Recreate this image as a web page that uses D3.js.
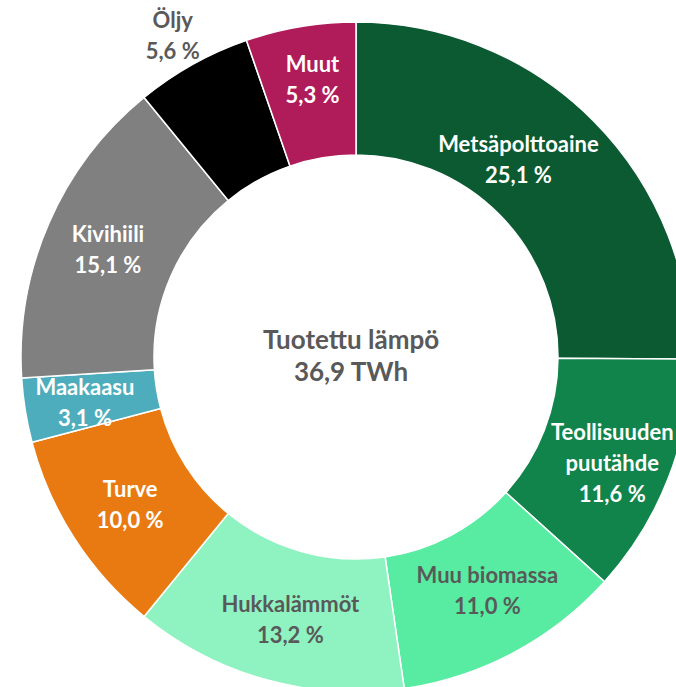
<!DOCTYPE html>
<html>
<head>
<meta charset="utf-8">
<script src="https://cdn.jsdelivr.net/npm/d3@7"></script>
<style>
  body { margin: 0; background: #fff; }
  svg { display: block; }
</style>
</head>
<body>
<div id="chart"></div>
<script>
var categories = ['Metsäpolttoaine', 'Teollisuuden puutähde', 'Muu biomassa', 'Hukkalämmöt', 'Turve', 'Maakaasu', 'Kivihiili', 'Öljy', 'Muut'];
var shares = [25.1, 11.6, 11.0, 13.2, 10.0, 3.1, 15.1, 5.6, 5.3];
var colors = ['#0b5a32', '#10844a', '#58eba2', '#8ff2c1', '#e97a12', '#4eadbc', '#808080', '#000000', '#b01c5a'];
var labelLines = [['Metsäpolttoaine'], ['Teollisuuden', 'puutähde'], ['Muu biomassa'], ['Hukkalämmöt'], ['Turve'], ['Maakaasu'], ['Kivihiili'], ['Öljy'], ['Muut']];
var labelColors = ['#fff', '#fff', '#595959', '#595959', '#fff', '#fff', '#fff', '#595959', '#fff'];
var centerText = ['Tuotettu lämpö', '36,9 TWh'];

var width = 676, height = 687;
var cx = 356, cy = 357;
var outerR = 335, innerR = 202;

// small label nudges (px) like the original layout
var nudge = {
	'Metsäpolttoaine': [-28, -8],
	'Teollisuuden puutähde': [6, 9],
	'Muu biomassa': [5, -3],
	'Hukkalämmöt': [6, 4],
	'Turve': [0, 2],
	'Maakaasu': [-6, 3],
	'Kivihiili': [-2, 0],
	'Öljy': [-4, 0],
	'Muut': [1, -13]
};

var svg = d3.select('#chart').append('svg')
	.attr('width', width)
	.attr('height', height);

var g = svg.append('g').attr('transform', 'translate(' + cx + ',' + cy + ')');

var data = categories.map(function (c, i) {
	return {name: c, value: shares[i], color: colors[i], lines: labelLines[i], tc: labelColors[i]};
});

var pie = d3.pie().value(function (d) { return d.value; }).sort(null);
var arc = d3.arc().innerRadius(innerR).outerRadius(outerR);
var arcs = pie(data);

g.selectAll('.slice').data(arcs).enter()
	.append('path')
	.attr('class', 'slice')
	.attr('d', arc)
	.attr('fill', function (d) { return d.data.color; })
	.attr('stroke', '#fff')
	.attr('stroke-width', 1.5);

// Öljy label sits outside the ring
var outsideArc = d3.arc().innerRadius(368).outerRadius(368);

var lbl = g.selectAll('.lbl').data(arcs).enter()
	.append('text')
	.attr('class', 'lbl')
	.attr('transform', function (d) {
		var p = d.data.name === 'Öljy' ? outsideArc.centroid(d) : arc.centroid(d);
		var n = nudge[d.data.name] || [0, 0];
		return 'translate(' + (p[0] + n[0]) + ',' + (p[1] + n[1]) + ')';
	})
	.attr('font-family', 'Lato, sans-serif')
	.attr('font-weight', 'bold')
	.attr('font-size', '22px')
	.attr('fill', function (d) { return d.data.tc; })
	.style('text-anchor', 'middle');

lbl.each(function (d) {
	var lines = d.data.lines.concat([d3.format('.1f')(d.data.value).replace('.', ',') + ' %']);
	var t = d3.select(this);
	var lh = 31;
	var y0 = -(lines.length - 1) * lh / 2 + 8;
	lines.forEach(function (s, k) {
		t.append('tspan').attr('x', 0).attr('y', y0 + k * lh).text(s);
	});
});

var ct = g.append('text')
	.attr('font-family', 'Lato, sans-serif')
	.attr('font-weight', 'bold')
	.attr('font-size', '26px')
	.attr('fill', '#595959')
	.style('text-anchor', 'middle');
centerText.forEach(function (s, k) {
	ct.append('tspan').attr('x', -5).attr('y', -8 + k * 32).text(s);
});
</script>
</body>
</html>
